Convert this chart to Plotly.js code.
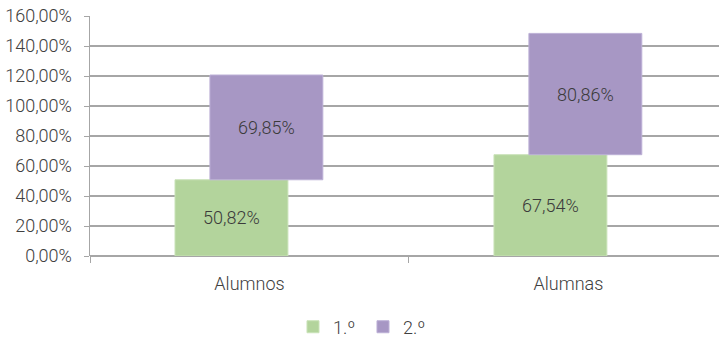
<!DOCTYPE html>
<html><head><meta charset="utf-8">
<script src="https://cdn.plot.ly/plotly-3.0.1.min.js"></script>
<style>html,body{margin:0;padding:0;background:#fff;}</style>
</head><body>
<div id="chart" style="width:719px;height:339px;"></div>
<script>
const categories = ["Alumnos", "Alumnas"];
const primero = [50.82, 67.54];
const segundo = [69.85, 80.86];
const seriesNames = ["1.º", "2.º"];
const yTicks = [0, 20, 40, 60, 80, 100, 120, 140, 160];

const fmt = v => v.toFixed(2).replace('.', ',') + '%';
const FONT = "Roboto, 'Open Sans', sans-serif";

const t1 = {
  type: 'bar', name: seriesNames[0], x: categories, y: primero,
  width: 0.354, offset: -0.2335,
  marker: {color: '#b3d49c', line: {color: '#c9e2b8', width: 1}},
  text: primero.map(fmt), textposition: 'inside', insidetextanchor: 'middle',
  textangle: 0, textfont: {family: FONT, size: 18, color: '#3b3b3b', weight: 300},
  hoverinfo: 'none'
};
const t2 = {
  type: 'bar', name: seriesNames[1], x: categories, y: segundo, base: primero,
  width: 0.354, offset: -0.124,
  marker: {color: '#a797c4', line: {color: '#bcb0d6', width: 1}},
  text: segundo.map(fmt), textposition: 'inside', insidetextanchor: 'middle',
  textangle: 0, textfont: {family: FONT, size: 18, color: '#3b3b3b', weight: 300},
  hoverinfo: 'none'
};

const layout = {
  width: 719, height: 339,
  margin: {l: 90, r: 0, t: 16, b: 83, pad: 0, autoexpand: false},
  paper_bgcolor: '#fff', plot_bgcolor: '#fff',
  barmode: 'overlay',
  separators: ', ',
  font: {family: FONT, size: 18, color: '#404040', weight: 300},
  showlegend: true,
  legend: {orientation: 'h', x: 0.434, xanchor: 'center', y: -0.296, yanchor: 'middle',
           font: {family: FONT, size: 18, color: '#404040', weight: 300},
           traceorder: 'normal', entrywidth: 25, entrywidthmode: 'pixels'},
  xaxis: {
    type: 'category', range: [-0.5, 1.472], tickson: 'boundaries',
    ticks: 'outside', ticklen: 6, tickcolor: '#a6a6a6', tickwidth: 1,
    ticklabelstandoff: 15,
    showline: false, showgrid: false, zeroline: false,
    tickfont: {family: FONT, size: 18, color: '#404040', weight: 300},
    fixedrange: true
  },
  yaxis: {
    range: [0, 160], tickvals: yTicks, ticktext: yTicks.map(fmt),
    ticks: 'outside', ticklen: 5, tickcolor: '#a6a6a6',
    ticklabelstandoff: 8,
    showline: true, linecolor: '#a6a6a6', linewidth: 1.5,
    showgrid: true, gridcolor: '#a6a6a6', gridwidth: 1.5,
    zeroline: true, zerolinecolor: '#a6a6a6', zerolinewidth: 1.5,
    tickfont: {family: FONT, size: 18, color: '#404040', weight: 300},
    fixedrange: true
  }
};

Plotly.newPlot('chart', [t1, t2], layout, {displayModeBar: false, staticPlot: true});
</script>
</body></html>
